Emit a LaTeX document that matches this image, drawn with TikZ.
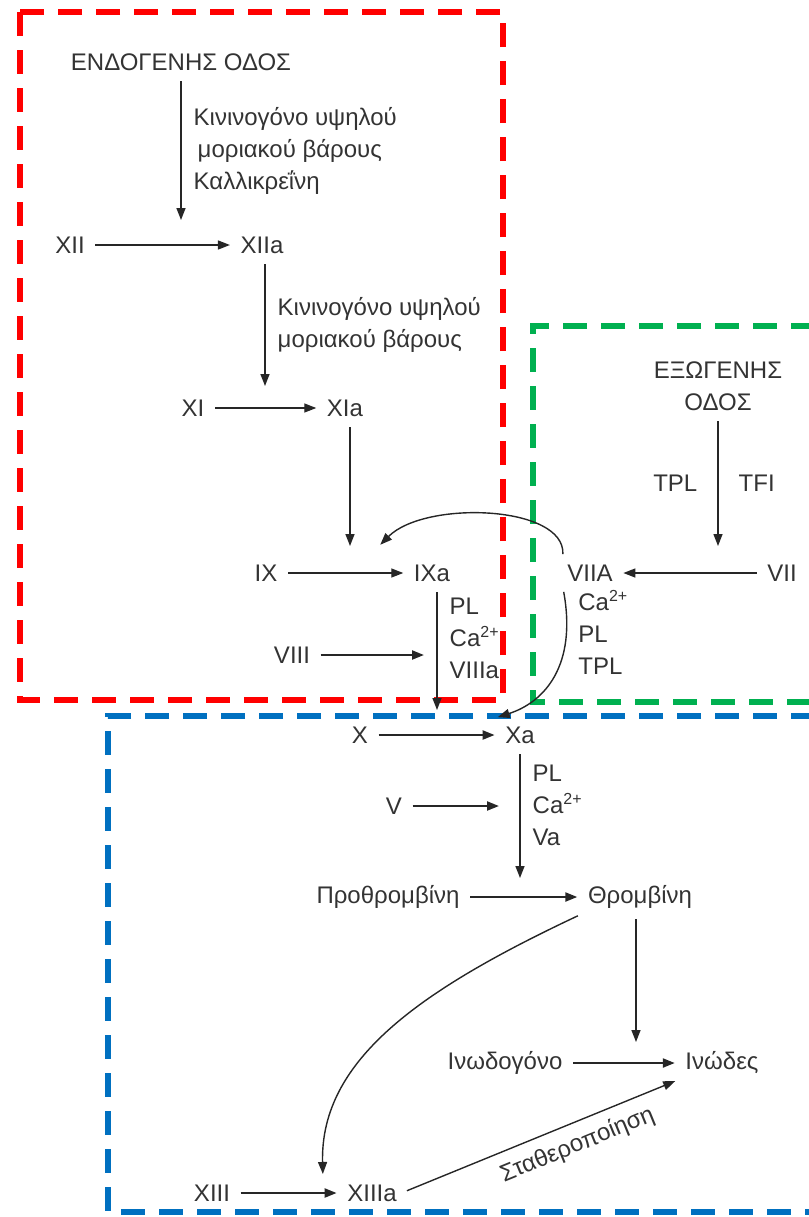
\documentclass[tikz,border=0pt]{standalone}
\usepackage{fontspec}
\setmainfont{Liberation Sans}
\usetikzlibrary{arrows.meta}
\definecolor{boxred}{RGB}{255,0,0}
\definecolor{boxgreen}{RGB}{0,176,80}
\definecolor{boxblue}{RGB}{0,112,192}

\begin{document}
\begin{tikzpicture}[x=0.5pt, y=-0.5pt,
  factor/.style={inner sep=2pt, text=black!80, font=\fontsize{12}{16}\selectfont},
  cofactor/.style={align=left, inner sep=2pt, text=black!80, font=\fontsize{12}{16}\selectfont},
  region/.style={-, line width=3pt, dash pattern=on 12pt off 7pt},
  heavy/.style={line width=1.1pt},
  ->, >={Triangle[length=6pt, width=4.5pt]}, line width=0.7pt, draw=black!85,
  shorten <=3pt, shorten >=3pt
]
  \useasboundingbox (0,0) rectangle (809,1217);

  % the three pathways
  \draw[region, boxred, shorten <=0pt, shorten >=0pt] (20,12) rectangle (503,700);
  \draw[region, boxgreen, shorten <=0pt, shorten >=0pt] (815,326) -- (533,326) -- (533,702) -- (815,702);
  \draw[region, boxblue, shorten <=0pt, shorten >=0pt] (815,716) -- (108,716) -- (108,1212) -- (815,1212);

  \node[factor] (endo) at (181,62) {ΕΝΔΟΓΕΝΗΣ ΟΔΟΣ};
  \node[factor] (xii) at (70,245) {XII};
  \node[factor] (xiia) at (262,245) {XIIa};
  \node[factor] (xi) at (193,408) {XI};
  \node[factor] (xia) at (345,408) {XIa};
  \node[factor] (ix) at (266,573) {IX};
  \node[factor] (ixa) at (432,573) {IXa};
  \node[factor] (viia) at (590,573) {VIIA};
  \node[factor] (vii) at (782,573) {VII};
  \node[factor, align=center] (exo) at (718,386) {ΕΞΩΓΕΝΗΣ\\ΟΔΟΣ};
  \node[factor] (viii) at (292,655) {VIII};
  \node[factor] (x) at (360,735) {X};
  \node[factor] (xa) at (520,735) {Xa};
  \node[factor] (v) at (394,806) {V};
  \node[factor] (proth) at (388,897) {Προθρομβίνη};
  \node[factor] (thromb) at (640,897) {Θρομβίνη};
  \node[factor] (inog) at (505,1063) {Ινωδογόνο};
  \node[factor] (inod) at (722,1063) {Ινώδες};
  \node[factor] (xiii) at (212,1193) {XIII};
  \node[factor] (xiiia) at (372,1193) {XIIIa};

  \coordinate (c12) at (181,226);
  \coordinate (c11) at (265,392);
  \coordinate (c9) at (350,552);
  \coordinate (c7) at (718,552);
  \coordinate (c10) at (437,716);
  \coordinate (c8) at (430,655);
  \coordinate (cfb) at (376,549);
  \coordinate (cxa) at (492,719);
  \coordinate (cpt) at (520,884);
  \coordinate (c5) at (505,806);
  \coordinate (cfg) at (636,1048);
  \coordinate (c13) at (323,1180);

  % intrinsic
  \path (endo) edge node[right, cofactor, xshift=4pt] {Κινινογόνο υψηλού\\\hspace{2pt}μοριακού βάρους\\Καλλικρεΐνη} (c12)
        (xii) edge (xiia)
        (xiia.south -| c11) edge node[right, cofactor, xshift=4pt] {Κινινογόνο υψηλού\\μοριακού βάρους} (c11)
        (xi) edge (xia)
        (xia.south -| c9) edge (c9)
        (ix) edge (ixa)
        (viii) edge[heavy] (c8)
        (ixa.south -| c10) edge node[right, cofactor, pos=0.4, xshift=4pt] {PL\\Ca\textsuperscript{2+}\\VIIIa} (c10);

  % extrinsic
  \path (exo.south) edge node[left, cofactor, xshift=-8pt] {TPL} node[right, cofactor, xshift=8pt] {TFI} (c7)
        (vii) edge (viia);
  \draw (viia.north west) .. controls (565,505) and (425,500) .. (cfb);
  \draw (viia.south west) .. controls (577,665) and (545,702) .. (cxa)
        node[pos=0.22, right, cofactor, xshift=4pt] {Ca\textsuperscript{2+}\\PL\\TPL};

  % common
  \path (x) edge[heavy] (xa)
        (xa) edge node[right, cofactor, pos=0.42, xshift=4pt] {PL\\Ca\textsuperscript{2+}\\Va} (cpt)
        (v) edge[heavy] (c5)
        (proth) edge[heavy] (thromb)
        (thromb.south -| cfg) edge (cfg)
        (inog) edge[heavy] (inod)
        (xiii) edge[heavy] (xiiia)
        (xiiia.east) edge node[below=3pt, sloped, cofactor, pos=0.6] {Σταθεροποίηση} (inod.south west);
  \draw (thromb.south west) .. controls (420,990) and (320,1060) .. (c13);
\end{tikzpicture}
\end{document}
